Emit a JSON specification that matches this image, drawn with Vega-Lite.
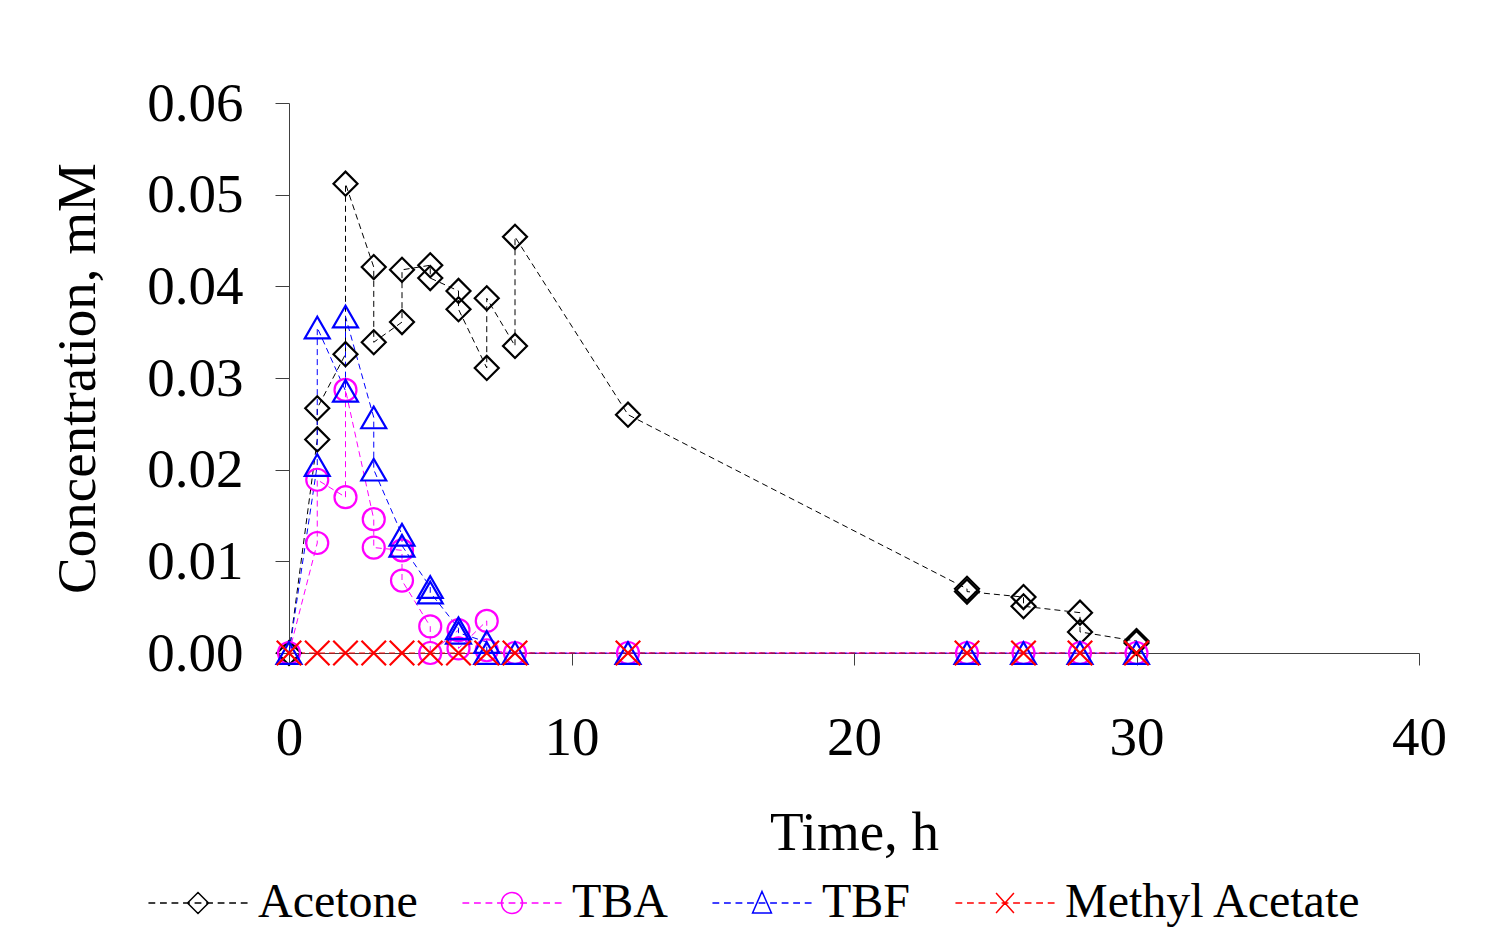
{
  "$schema": "https://vega.github.io/schema/vega-lite/v6.json",
  "width": 1130,
  "height": 550,
  "autosize": {"type": "none"},
  "padding": {"left": 289, "top": 103, "right": 74, "bottom": 294},
  "background": "#ffffff",
  "config": {
    "view": {"stroke": null},
    "font": "Liberation Serif",
    "axis": {
      "labelFont": "Liberation Serif",
      "titleFont": "Liberation Serif",
      "labelColor": "#000000",
      "titleColor": "#000000",
      "titleFontWeight": "normal",
      "domainColor": "#404040",
      "tickColor": "#404040",
      "grid": false
    }
  },
  "data": {
    "values": [
      {"s": "Acetone", "i": 0, "t": 0, "c": 0},
      {"s": "Acetone", "i": 1, "t": 1, "c": 0.0233},
      {"s": "Acetone", "i": 2, "t": 1, "c": 0.0267},
      {"s": "Acetone", "i": 3, "t": 2, "c": 0.0326},
      {"s": "Acetone", "i": 4, "t": 2, "c": 0.0512},
      {"s": "Acetone", "i": 5, "t": 3, "c": 0.0421},
      {"s": "Acetone", "i": 6, "t": 3, "c": 0.0339},
      {"s": "Acetone", "i": 7, "t": 4, "c": 0.0361},
      {"s": "Acetone", "i": 8, "t": 4, "c": 0.0418},
      {"s": "Acetone", "i": 9, "t": 5, "c": 0.0423},
      {"s": "Acetone", "i": 10, "t": 5, "c": 0.0409},
      {"s": "Acetone", "i": 11, "t": 6, "c": 0.0395},
      {"s": "Acetone", "i": 12, "t": 6, "c": 0.0375},
      {"s": "Acetone", "i": 13, "t": 7, "c": 0.0311},
      {"s": "Acetone", "i": 14, "t": 7, "c": 0.0387},
      {"s": "Acetone", "i": 15, "t": 8, "c": 0.0335},
      {"s": "Acetone", "i": 16, "t": 8, "c": 0.0454},
      {"s": "Acetone", "i": 17, "t": 12, "c": 0.0260},
      {"s": "Acetone", "i": 18, "t": 24, "c": 0.0070},
      {"s": "Acetone", "i": 19, "t": 24, "c": 0.0067},
      {"s": "Acetone", "i": 20, "t": 26, "c": 0.0061},
      {"s": "Acetone", "i": 21, "t": 26, "c": 0.0051},
      {"s": "Acetone", "i": 22, "t": 28, "c": 0.0044},
      {"s": "Acetone", "i": 23, "t": 28, "c": 0.0023},
      {"s": "Acetone", "i": 24, "t": 30, "c": 0.0013},
      {"s": "Acetone", "i": 25, "t": 30, "c": 0.0011},
      {"s": "TBA", "i": 0, "t": 0, "c": 0},
      {"s": "TBA", "i": 1, "t": 1, "c": 0.0120},
      {"s": "TBA", "i": 2, "t": 1, "c": 0.0189},
      {"s": "TBA", "i": 3, "t": 2, "c": 0.0170},
      {"s": "TBA", "i": 4, "t": 2, "c": 0.0287},
      {"s": "TBA", "i": 5, "t": 3, "c": 0.0146},
      {"s": "TBA", "i": 6, "t": 3, "c": 0.0115},
      {"s": "TBA", "i": 7, "t": 4, "c": 0.0112},
      {"s": "TBA", "i": 8, "t": 4, "c": 0.0079},
      {"s": "TBA", "i": 9, "t": 5, "c": 0.0029},
      {"s": "TBA", "i": 10, "t": 5, "c": 0},
      {"s": "TBA", "i": 11, "t": 6, "c": 0.0025},
      {"s": "TBA", "i": 12, "t": 6, "c": 0.0005},
      {"s": "TBA", "i": 13, "t": 7, "c": 0.0035},
      {"s": "TBA", "i": 14, "t": 7, "c": 0.0003},
      {"s": "TBA", "i": 15, "t": 8, "c": 0},
      {"s": "TBA", "i": 16, "t": 12, "c": 0},
      {"s": "TBA", "i": 17, "t": 24, "c": 0},
      {"s": "TBA", "i": 18, "t": 26, "c": 0},
      {"s": "TBA", "i": 19, "t": 28, "c": 0},
      {"s": "TBA", "i": 20, "t": 30, "c": 0},
      {"s": "TBF", "i": 0, "t": 0, "c": 0},
      {"s": "TBF", "i": 1, "t": 1, "c": 0.0205},
      {"s": "TBF", "i": 2, "t": 1, "c": 0.0355},
      {"s": "TBF", "i": 3, "t": 2, "c": 0.0286},
      {"s": "TBF", "i": 4, "t": 2, "c": 0.0367},
      {"s": "TBF", "i": 5, "t": 3, "c": 0.0257},
      {"s": "TBF", "i": 6, "t": 3, "c": 0.0200},
      {"s": "TBF", "i": 7, "t": 4, "c": 0.0129},
      {"s": "TBF", "i": 8, "t": 4, "c": 0.0117},
      {"s": "TBF", "i": 9, "t": 5, "c": 0.0072},
      {"s": "TBF", "i": 10, "t": 5, "c": 0.0066},
      {"s": "TBF", "i": 11, "t": 6, "c": 0.0027},
      {"s": "TBF", "i": 12, "t": 6, "c": 0.0022},
      {"s": "TBF", "i": 13, "t": 7, "c": 0.0012},
      {"s": "TBF", "i": 14, "t": 7, "c": 0},
      {"s": "TBF", "i": 15, "t": 8, "c": 0},
      {"s": "TBF", "i": 16, "t": 12, "c": 0},
      {"s": "TBF", "i": 17, "t": 24, "c": 0},
      {"s": "TBF", "i": 18, "t": 26, "c": 0},
      {"s": "TBF", "i": 19, "t": 28, "c": 0},
      {"s": "TBF", "i": 20, "t": 30, "c": 0},
      {"s": "Methyl Acetate", "i": 0, "t": 0, "c": 0},
      {"s": "Methyl Acetate", "i": 1, "t": 1, "c": 0},
      {"s": "Methyl Acetate", "i": 2, "t": 2, "c": 0},
      {"s": "Methyl Acetate", "i": 3, "t": 3, "c": 0},
      {"s": "Methyl Acetate", "i": 4, "t": 4, "c": 0},
      {"s": "Methyl Acetate", "i": 5, "t": 5, "c": 0},
      {"s": "Methyl Acetate", "i": 6, "t": 6, "c": 0},
      {"s": "Methyl Acetate", "i": 7, "t": 7, "c": 0},
      {"s": "Methyl Acetate", "i": 8, "t": 8, "c": 0},
      {"s": "Methyl Acetate", "i": 9, "t": 12, "c": 0},
      {"s": "Methyl Acetate", "i": 10, "t": 24, "c": 0},
      {"s": "Methyl Acetate", "i": 11, "t": 26, "c": 0},
      {"s": "Methyl Acetate", "i": 12, "t": 28, "c": 0},
      {"s": "Methyl Acetate", "i": 13, "t": 30, "c": 0}
    ]
  },
  "encoding": {
    "x": {
      "field": "t",
      "type": "quantitative",
      "scale": {"domain": [0, 40], "nice": false, "zero": false},
      "axis": {
        "title": "Time, h",
        "values": [0, 10, 20, 30, 40],
        "format": "d",
        "labelFontSize": 55,
        "titleFontSize": 55,
        "tickSize": 12,
        "labelPadding": 46,
        "titlePadding": 41,
        "labelFlush": false
      }
    },
    "y": {
      "field": "c",
      "type": "quantitative",
      "scale": {"domain": [0, 0.06], "nice": false},
      "axis": {
        "title": "Concentration, mM",
        "values": [0, 0.01, 0.02, 0.03, 0.04, 0.05, 0.06],
        "format": ".2f",
        "labelFontSize": 55,
        "titleFontSize": 55,
        "tickSize": 14,
        "labelPadding": 32,
        "titlePadding": 40,
        "labelFlush": false
      }
    },
    "color": {
      "field": "s",
      "type": "nominal",
      "scale": {"domain": ["Acetone", "TBA", "TBF", "Methyl Acetate"], "range": ["#000000", "#FF00FF", "#0000FF", "#FF0000"]},
      "legend": {
        "title": null,
        "orient": "none",
        "legendX": -115,
        "legendY": 776,
        "direction": "horizontal",
        "columns": 4,
        "columnPadding": 41,
        "symbolSize": 440,
        "symbolStrokeWidth": 1.5,
        "symbolOpacity": 1,
        "labelFont": "Liberation Serif",
        "labelFontSize": 48,
        "labelColor": "#000000",
        "labelOffset": 36,
        "labelLimit": 0
      }
    }
  },
  "layer": [
    {
      "mark": {"type": "line"},
      "encoding": {
        "order": {"field": "i", "type": "quantitative"},
        "strokeDash": {"value": [6, 4]},
        "strokeWidth": {"value": 1}
      }
    },
    {
      "transform": [{"filter": "datum.s === 'Acetone'"}],
      "mark": {"type": "point", "shape": "diamond", "filled": false, "size": 576},
      "encoding": {"strokeWidth": {"value": 2.2}, "opacity": {"value": 1}}
    },
    {
      "transform": [{"filter": "datum.s === 'TBA'"}],
      "mark": {"type": "point", "shape": "circle", "filled": false, "size": 484},
      "encoding": {"strokeWidth": {"value": 2.2}, "opacity": {"value": 1}}
    },
    {
      "transform": [{"filter": "datum.s === 'TBF'"}],
      "mark": {"type": "point", "shape": "triangle-up", "filled": false, "size": 625},
      "encoding": {"strokeWidth": {"value": 2.2}, "opacity": {"value": 1}}
    },
    {
      "transform": [{"filter": "datum.s === 'Methyl Acetate'"}],
      "mark": {"type": "point", "shape": "M-1,-1L1,1M1,-1L-1,1", "filled": false, "size": 600},
      "encoding": {"strokeWidth": {"value": 2.2}, "opacity": {"value": 1}}
    },
    {
      "transform": [{"filter": "datum.c < 0"}],
      "mark": {"type": "point", "filled": false},
      "encoding": {
        "shape": {
          "field": "s",
          "type": "nominal",
          "scale": {
            "domain": ["Acetone", "TBA", "TBF", "Methyl Acetate"],
            "range": [
              "M-4.725,0L-4.075,0M-3.625,0L-2.975,0M-2.525,0L-1.875,0M-1.425,0L-0.775,0M-0.325,0L0.325,0M0.775,0L1.425,0M1.875,0L2.525,0M2.975,0L3.625,0M4.075,0L4.725,0M-1,0L0,-1L1,0L0,1Z",
              "M-4.725,0L-4.075,0M-3.625,0L-2.975,0M-2.525,0L-1.875,0M-1.425,0L-0.775,0M-0.325,0L0.325,0M0.775,0L1.425,0M1.875,0L2.525,0M2.975,0L3.625,0M4.075,0L4.725,0M1,0A1,1,0,1,1,-1,0A1,1,0,1,1,1,0Z",
              "M-4.725,0L-4.075,0M-3.625,0L-2.975,0M-2.525,0L-1.875,0M-1.425,0L-0.775,0M-0.325,0L0.325,0M0.775,0L1.425,0M1.875,0L2.525,0M2.975,0L3.625,0M4.075,0L4.725,0M0,-1.1L0.9,0.95L-0.9,0.95Z",
              "M-4.725,0L-4.075,0M-3.625,0L-2.975,0M-2.525,0L-1.875,0M-1.425,0L-0.775,0M-0.325,0L0.325,0M0.775,0L1.425,0M1.875,0L2.525,0M2.975,0L3.625,0M4.075,0L4.725,0M-0.85,-0.95L0.85,0.95M0.85,-0.95L-0.85,0.95"
            ]
          }
        }
      }
    }
  ]
}
